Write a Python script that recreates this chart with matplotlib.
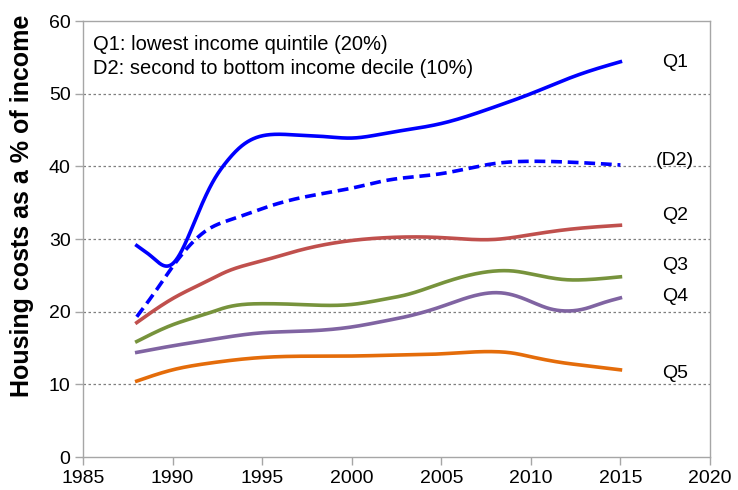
import numpy as np
import matplotlib
matplotlib.use("Agg")
import matplotlib.pyplot as plt

plt.rcParams['font.family'] = ['Liberation Sans', 'DejaVu Sans']

# values (housing costs as % of income)
q1_years = [1988, 1988.4, 1988.75, 1989.1, 1989.5, 1990, 1990.8, 1991.5, 1992.3, 1993, 1993.8, 1994.5, 1995.6, 1997, 1998.5, 2000, 2002, 2005, 2008, 2010, 2012, 2013, 2015]
q1_vals = [29.1, 28.4, 27.75, 27.0, 26.35, 26.6, 29.9, 34.0, 38.1, 40.6, 42.7, 43.8, 44.4, 44.3, 44.1, 43.9, 44.6, 45.9, 48.2, 50.0, 52.0, 52.9, 54.4]

d2_years = [1988, 1989.1, 1990, 1990.8, 1991.9, 1993.4, 1995.25, 1997, 2000, 2002, 2005, 2008, 2010, 2012, 2015]
d2_vals = [19.3, 23.0, 26.2, 28.7, 31.2, 32.8, 34.4, 35.6, 37.0, 38.1, 39.0, 40.4, 40.7, 40.6, 40.2]

q2_years = [1988, 1990, 1992, 1993, 1995, 1997, 2000, 2002, 2005, 2008, 2010, 2012, 2015]
q2_vals = [18.5, 21.8, 24.3, 25.5, 27.0, 28.4, 29.8, 30.2, 30.2, 29.95, 30.6, 31.3, 31.9]

q3_years = [1988, 1990, 1992, 1993, 1995, 1997, 2000, 2002, 2003, 2005, 2008, 2009, 2010, 2012, 2013, 2015]
q3_vals = [15.9, 18.2, 19.8, 20.6, 21.1, 21.0, 21.0, 21.8, 22.3, 23.9, 25.6, 25.6, 25.2, 24.4, 24.4, 24.8]

q4_years = [1988, 1990, 1992, 1995, 1997, 2000, 2002, 2003, 2005, 2008.3, 2009, 2010, 2011, 2012, 2013, 2014, 2015]
q4_vals = [14.4, 15.3, 16.1, 17.1, 17.3, 17.9, 18.8, 19.3, 20.7, 22.6, 22.3, 21.4, 20.45, 20.1, 20.4, 21.2, 21.9]

q5_years = [1988, 1990, 1992, 1994, 1995, 2000, 2002, 2005, 2008, 2009, 2010, 2011, 2012, 2013, 2014, 2015]
q5_vals = [10.45, 12.0, 12.9, 13.5, 13.7, 13.9, 14.0, 14.2, 14.5, 14.3, 13.8, 13.3, 12.9, 12.6, 12.3, 12.0]

series_labels = ["Q1", "(D2)", "Q2", "Q3", "Q4", "Q5"]
note_lines = ["Q1: lowest income quintile (20%)",
              "D2: second to bottom income decile (10%)"]


def smooth(xs, ys, n=30):
    # natural cubic spline through the points (spreadsheet-style smoothed line)
    x = np.asarray(xs, float)
    y = np.asarray(ys, float)
    k = len(x)
    h = np.diff(x)
    A = np.zeros((k, k))
    r = np.zeros(k)
    A[0, 0] = A[-1, -1] = 1
    for i in range(1, k - 1):
        A[i, i - 1] = h[i - 1]
        A[i, i] = 2 * (h[i - 1] + h[i])
        A[i, i + 1] = h[i]
        r[i] = 6 * ((y[i + 1] - y[i]) / h[i] - (y[i] - y[i - 1]) / h[i - 1])
    M = np.linalg.solve(A, r)
    px, py = [], []
    for i in range(k - 1):
        t = np.linspace(x[i], x[i + 1], n, endpoint=False)
        a = x[i + 1] - t
        b = t - x[i]
        s = (M[i] * a ** 3 + M[i + 1] * b ** 3) / (6 * h[i]) \
            + (y[i] / h[i] - M[i] * h[i] / 6) * a + (y[i + 1] / h[i] - M[i + 1] * h[i] / 6) * b
        px.append(t)
        py.append(s)
    px.append([x[-1]])
    py.append([y[-1]])
    return np.concatenate(px), np.concatenate(py)


fig = plt.figure(figsize=(7.38, 4.9), dpi=100)
ax = fig.add_axes([0.1125, 0.0673, 0.8495, 0.8897])

for yv in [10, 20, 30, 40, 50]:
    ax.axhline(yv, color="#7f7f7f", lw=0.9, linestyle=(0, (2, 2)), zorder=1)

lw = 2.6
x, y = smooth(q1_years, q1_vals)
ax.plot(x, y, color="#0000FF", lw=lw, zorder=3)
x, y = smooth(d2_years, d2_vals)
ax.plot(x, y, color="#0000FF", lw=lw, linestyle=(0, (3, 1.6)), zorder=3)
x, y = smooth(q2_years, q2_vals)
ax.plot(x, y, color="#C0504D", lw=lw, zorder=3)
x, y = smooth(q3_years, q3_vals)
ax.plot(x, y, color="#77933C", lw=lw, zorder=3)
x, y = smooth(q4_years, q4_vals)
ax.plot(x, y, color="#8064A2", lw=lw, zorder=3)
x, y = smooth(q5_years, q5_vals)
ax.plot(x, y, color="#E46C0A", lw=lw, zorder=3)

# series labels at the right
label_y = [54.3, 40.85, 33.3, 26.4, 22.05, 11.5]
for lab, ly in zip(series_labels, label_y):
    ax.text(2018.05, ly, lab, fontsize=14, ha="center", va="center")

ax.text(1985.55, 56.8, note_lines[0], fontsize=14.5, ha="left", va="center")
ax.text(1985.55, 53.5, note_lines[1], fontsize=14.5, ha="left", va="center")

ax.set_xlim(1985, 2020)
ax.set_ylim(0, 60)
ax.set_xticks(np.arange(1985, 2021, 5))
ax.set_yticks(np.arange(0, 61, 10))
ax.tick_params(labelsize=14, colors="#000000", length=6, color="#a6a6a6", width=1, pad=3)
for s in ax.spines.values():
    s.set_color("#a6a6a6")
    s.set_linewidth(1)

fig.text(22 / 738, 1 - 206 / 490, "Housing costs as a % of income", fontsize=18,
         fontweight="bold", rotation=90, ha="center", va="center")

fig.savefig("out.png", dpi=100)
